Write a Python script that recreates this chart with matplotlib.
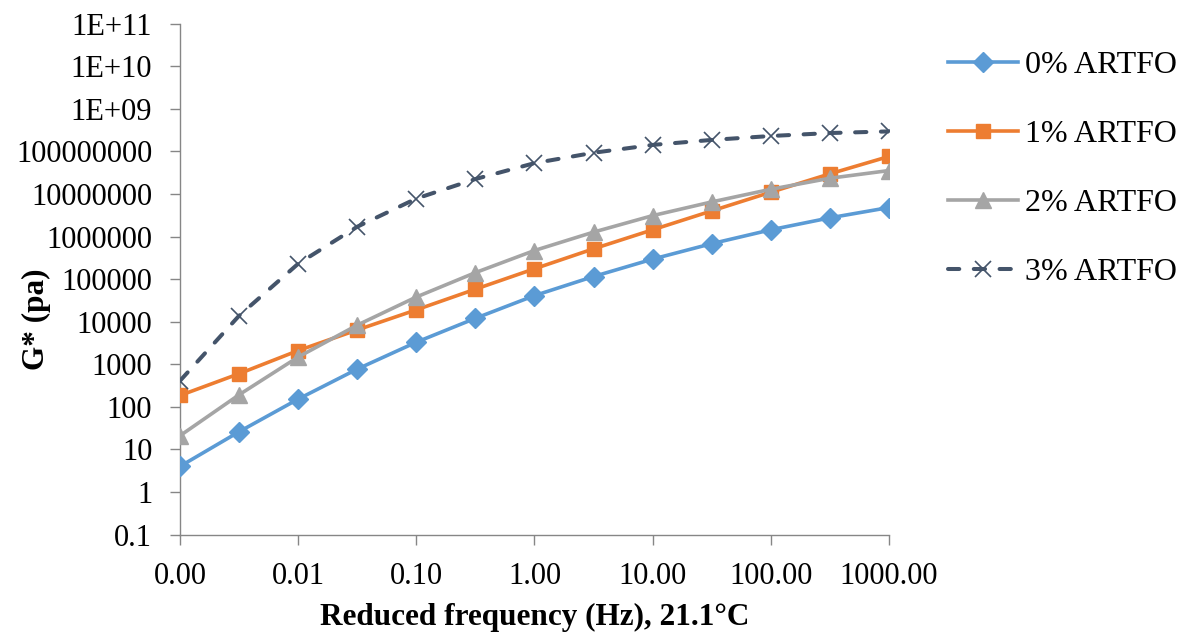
import matplotlib
matplotlib.use("Agg")
import matplotlib.pyplot as plt
from matplotlib.ticker import FixedLocator, FixedFormatter, NullLocator

# Reduced frequency (Hz), half-decade steps
freq = [0.001, 0.00316, 0.01, 0.0316, 0.1, 0.316, 1.0, 3.16, 10.0, 31.6, 100.0, 316.0, 1000.0]

# Complex modulus G* (Pa) for each ARTFO content
g_0pct = [4.0, 26, 152, 770, 3300, 12000, 41000, 115000, 295000, 680000, 1.44e6, 2.75e6, 4.8e6]
g_1pct = [185, 600, 2100, 6400, 19000, 58000, 175000, 515000, 1.44e6, 4.0e6, 1.1e7, 2.97e7, 7.6e7]
g_2pct = [21, 192, 1480, 8300, 38000, 142000, 470000, 1.27e6, 3.1e6, 6.5e6, 1.29e7, 2.34e7, 3.55e7]
g_3pct = [410, 13800, 230000, 1.7e6, 7.8e6, 2.24e7, 5.3e7, 9.3e7, 1.42e8, 1.86e8, 2.3e8, 2.7e8, 2.95e8]

series_labels = ["0% ARTFO", "1% ARTFO", "2% ARTFO", "3% ARTFO"]

x_ticks = [0.001, 0.01, 0.1, 1, 10, 100, 1000]
x_tick_labels = ["0.00", "0.01", "0.10", "1.00", "10.00", "100.00", "1000.00"]
y_ticks = [1e-1, 1e0, 1e1, 1e2, 1e3, 1e4, 1e5, 1e6, 1e7, 1e8, 1e9, 1e10, 1e11]
y_tick_labels = ["0.1", "1", "10", "100", "1000", "10000", "100000", "1000000",
                 "10000000", "100000000", "1E+09", "1E+10", "1E+11"]

plt.rcParams["font.family"] = ["Liberation Serif", "DejaVu Serif"]

fig = plt.figure(figsize=(11.9, 6.35), dpi=100)
ax = fig.add_axes([0.1513, 0.1582, 0.7470 - 0.1513, 0.9627 - 0.1582])

axis_grey = "#868686"
lw = 2.6

ax.plot(freq, g_0pct, color="#5B9BD5", lw=lw, marker="D", markersize=10,
        label=series_labels[0], zorder=3)
ax.plot(freq, g_1pct, color="#ED7D31", lw=lw, marker="s", markersize=10.5,
        label=series_labels[1], zorder=3)
ax.plot(freq, g_2pct, color="#A5A5A5", lw=lw, marker="^", markersize=11.5,
        label=series_labels[2], zorder=3)
ax.plot(freq, g_3pct, color="#44546A", lw=2.9, marker="x", markersize=11,
        markeredgewidth=1.2, dashes=(2.8, 3.6), dash_capstyle="round",
        label=series_labels[3], zorder=3)

ax.set_xscale("log")
ax.set_yscale("log")
ax.set_xlim(0.001, 1000)
ax.set_ylim(0.1, 1e11)

ax.xaxis.set_major_locator(FixedLocator(x_ticks))
ax.xaxis.set_major_formatter(FixedFormatter(x_tick_labels))
ax.xaxis.set_minor_locator(NullLocator())
ax.yaxis.set_major_locator(FixedLocator(y_ticks))
ax.yaxis.set_major_formatter(FixedFormatter(y_tick_labels))
ax.yaxis.set_minor_locator(NullLocator())

for side in ("top", "right"):
    ax.spines[side].set_visible(False)
for side in ("left", "bottom"):
    ax.spines[side].set_color(axis_grey)
    ax.spines[side].set_linewidth(1.0)

ax.tick_params(axis="both", which="major", direction="out", length=7,
               width=1.0, color=axis_grey, labelsize=22, labelcolor="black")
ax.tick_params(axis="x", pad=12.5)
ax.tick_params(axis="y", pad=13)

ax.set_xlabel("Reduced frequency (Hz), 21.1°C", fontsize=22.5, fontweight="bold",
              labelpad=9)
ax.set_ylabel("G* (pa)", fontsize=22.5, fontweight="bold")
ax.yaxis.set_label_coords(-0.182, 0.422)

leg = ax.legend(loc="upper left", bbox_to_anchor=(0.7966, 0.9206),
                bbox_transform=fig.transFigure, frameon=False, fontsize=23,
                handlelength=2.19, handletextpad=0.22, labelspacing=1.24,
                borderaxespad=0, borderpad=0)

fig.savefig("out.png", dpi=100)
